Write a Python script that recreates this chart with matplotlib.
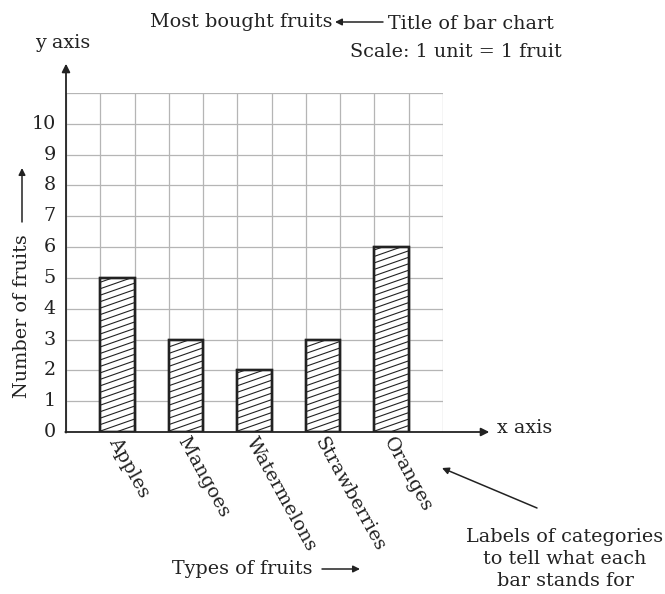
import numpy as np
import matplotlib
matplotlib.use('Agg')
import matplotlib.pyplot as plt

# data
fruits = ['Apples', 'Mangoes', 'Watermelons', 'Strawberries', 'Oranges']
counts = [5, 3, 2, 3, 6]
bar_pos = [1.5, 3.5, 5.5, 7.5, 9.5]   # every other grid column
y_ticks = list(range(0, 11))

plt.rcParams['font.family'] = 'DejaVu Serif'
plt.rcParams['text.color'] = '#222222'
fs = 13.8
ink = '#222222'

fig = plt.figure(figsize=(6.65, 5.94), dpi=100)
ax = fig.add_axes([66/665, 1 - 432/594, 377/665, 339/594])
ax.set_xlim(0, 11)
ax.set_ylim(0, 11)

# grid
for gx in range(0, 12):
    ax.axvline(gx, color='#b5b5b5', lw=0.9, zorder=0)
for gy in range(0, 12):
    ax.axhline(gy, color='#b5b5b5', lw=0.9, zorder=0)

bars = ax.bar(bar_pos, counts, width=1.0, color='white', edgecolor=ink,
              linewidth=1.7, zorder=2)

# shallow diagonal hatching, clipped to each bar
slope = 0.39
step = 0.21
for b in bars:
    x0, w, h = b.get_x(), b.get_width(), b.get_height()
    for off in np.arange(-slope * w, h, step):
        ln, = ax.plot([x0, x0 + w], [off, off + slope * w], color=ink,
                      lw=0.8, zorder=3)
        ln.set_clip_path(b)
# redraw outlines on top of the hatching
ax.bar(bar_pos, counts, width=1.0, fill=False, edgecolor=ink,
       linewidth=1.7, zorder=4)

for s in ax.spines.values():
    s.set_visible(False)
ax.set_xticks([])
ax.set_yticks([])

# axis arrows
ax.annotate('', xy=(0, 11.95), xytext=(0, -0.02), xycoords='data',
            arrowprops=dict(arrowstyle='-|>', color=ink, lw=1.3,
                            mutation_scale=12, shrinkA=0, shrinkB=0),
            annotation_clip=False, zorder=5)
ax.annotate('', xy=(12.35, 0), xytext=(-0.02, 0), xycoords='data',
            arrowprops=dict(arrowstyle='-|>', color=ink, lw=1.3,
                            mutation_scale=12, shrinkA=0, shrinkB=0),
            annotation_clip=False, zorder=5)

# y tick labels
for v in y_ticks:
    ax.text(-0.3, v, str(v), ha='right', va='center', fontsize=fs)

# category labels
for x, name in zip(bar_pos, fruits):
    ax.text(x - 0.12, -0.2, name, rotation=-61, rotation_mode='anchor',
            ha='left', va='center', fontsize=fs)

# surrounding annotations (figure pixels)
def px(x, y):
    return x / 665, 1 - y / 594

fig.text(*px(35, 43), 'y axis', ha='left', va='center', fontsize=fs)
fig.text(*px(497, 428), 'x axis', ha='left', va='center', fontsize=fs)
fig.text(*px(332, 22), 'Most bought fruits', ha='right', va='center', fontsize=fs)
fig.text(*px(388, 24), 'Title of bar chart', ha='left', va='center', fontsize=fs)
fig.text(*px(562, 52), 'Scale: 1 unit = 1 fruit', ha='right', va='center', fontsize=fs)
fig.text(*px(22, 398), 'Number of fruits', rotation=90, ha='center', va='bottom', fontsize=fs)
fig.text(*px(312, 569), 'Types of fruits', ha='right', va='center', fontsize=fs)
fig.text(*px(565, 559), 'Labels of categories\nto tell what each\nbar stands for',
         ha='center', va='center', fontsize=fs, linespacing=1.25)

arrow = dict(arrowstyle='-|>', color=ink, lw=1.1, mutation_scale=10,
             shrinkA=0, shrinkB=0)
fig.add_artist(matplotlib.patches.FancyArrowPatch(px(383, 22), px(335, 22),
               transform=fig.transFigure, **arrow))
fig.add_artist(matplotlib.patches.FancyArrowPatch(px(22, 222), px(22, 168),
               transform=fig.transFigure, **arrow))
fig.add_artist(matplotlib.patches.FancyArrowPatch(px(322, 569), px(360, 569),
               transform=fig.transFigure, **arrow))
fig.add_artist(matplotlib.patches.FancyArrowPatch(px(537, 508), px(442, 468),
               transform=fig.transFigure, **arrow))

fig.savefig('out.png', dpi=100)
